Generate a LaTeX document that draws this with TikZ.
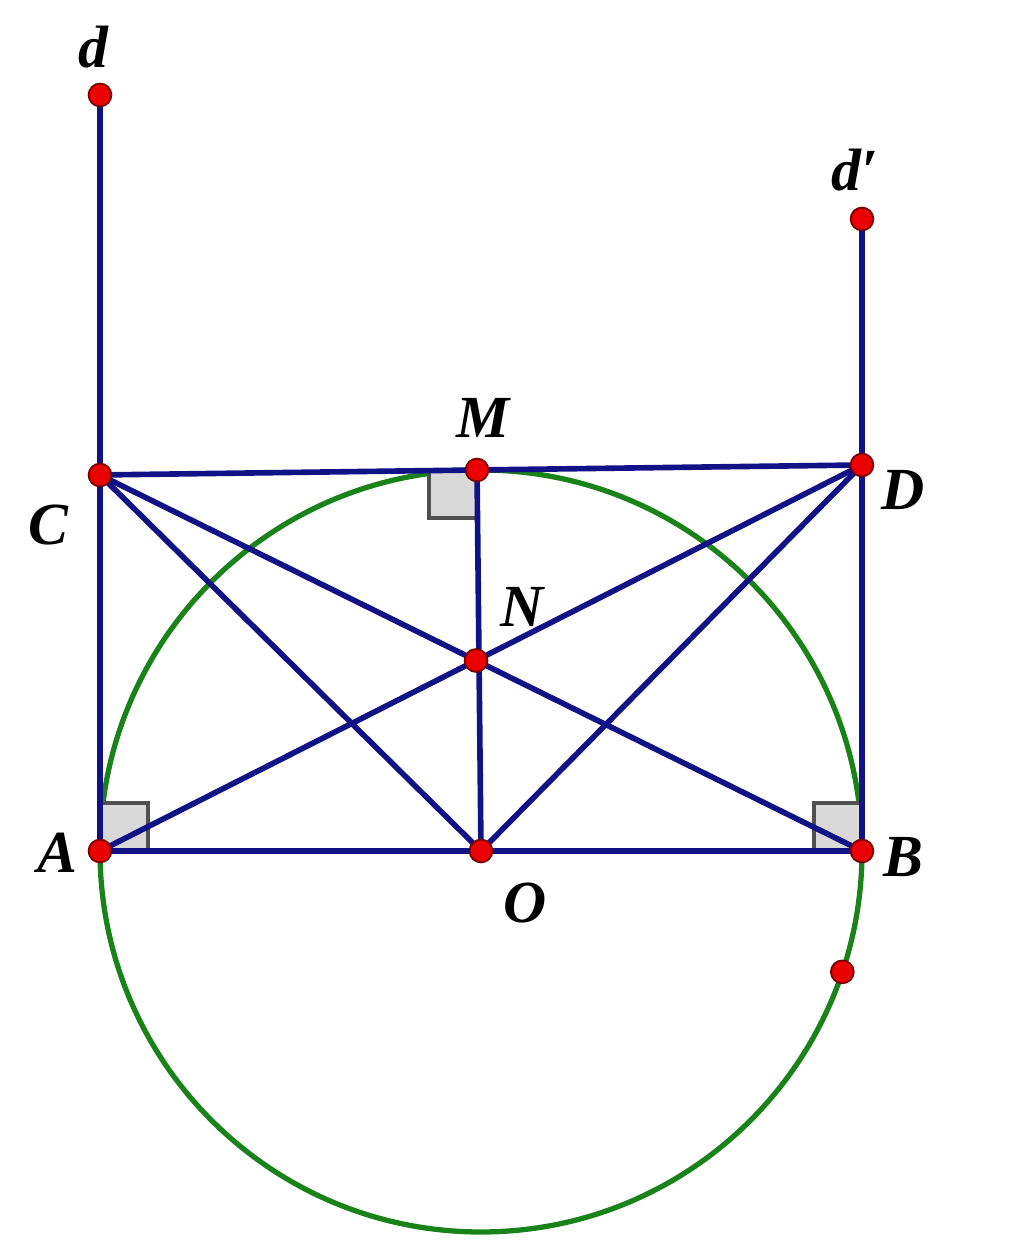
\documentclass[tikz,border=0pt]{standalone}
\usepackage{fontspec}
\setmainfont{Liberation Serif}
\usepackage{xcolor}
\usetikzlibrary{calc}
\definecolor{segblue}{RGB}{18,18,135}
\definecolor{circgreen}{RGB}{25,130,25}
\definecolor{ptred}{RGB}{235,0,0}
\definecolor{ptedge}{RGB}{120,0,0}
\definecolor{markgray}{RGB}{80,80,80}

\begin{document}
\begin{tikzpicture}[
    seg/.style={draw=segblue, line width=1.6pt},
    circ/.style={draw=circgreen, line width=1.5pt},
    pt/.style={circle, fill=ptred, draw=ptedge, line width=0.5pt, inner sep=0pt, minimum size=6.5pt},
    lbl/.style={font=\fontsize{17}{19}\selectfont\bfseries\itshape, inner sep=0pt},
    rfill/.style={fill=gray!30},
    rmark/.style={draw=markgray, line width=1.3pt}
]
    \useasboundingbox (0,0) rectangle (10.24,12.54);
    % base points
    \coordinate (A) at (1.00,4.03);
    \coordinate (B) at (8.62,4.03);
    \coordinate (O) at (4.81,4.03);
    \coordinate (C) at (1.00,7.79);
    \coordinate (D) at (8.62,7.89);
    \coordinate (M) at (4.77,7.84);
    \coordinate (d) at (1.00,11.59);
    \coordinate (dd) at (8.62,10.35);
    \coordinate (E) at ($(O)+(-18.5:3.81)$);
    % N where AD meets BC
    \coordinate (N) at (intersection of A--D and C--B);

    % semicircle / circle on AB
    \draw[circ] (O) circle (3.81);

    % right angle marks
    \fill[rfill] (M) rectangle ++(-0.48,-0.48);
    \fill[rfill] (A) rectangle ++(0.48,0.48);
    \fill[rfill] (B) rectangle ++(-0.48,0.48);
    \draw[rmark] (M) -- ++(-0.48,0) -- ++(0,-0.48) -- ++(0.48,0);
    \draw[rmark] ($(A)+(0,0.48)$) -- ++(0.48,0) -- ++(0,-0.48);
    \draw[rmark] ($(B)+(0,0.48)$) -- ++(-0.48,0) -- ++(0,-0.48);

    % tangents d and d'
    \draw[seg] (A) -- (d);
    \draw[seg] (B) -- (dd);
    % CD and AB
    \draw[seg] (C) -- (M) -- (D);
    \draw[seg] (A) -- (B);
    % diagonals
    \draw[seg] (C) -- (O);
    \draw[seg] (C) -- (B);
    \draw[seg] (D) -- (A);
    \draw[seg] (D) -- (O);
    \draw[seg] (M) -- (O);

    % points
    \foreach \p in {A,B,O,C,D,M,N,d,dd,E}
        \node[pt] at (\p) {};

    % labels
    \node[lbl] (lA) at (0.57,4.01) {A};
    \node[lbl] (lB) at (9.03,3.97) {B};
    \node[lbl] (lO) at (5.25,3.51) {O};
    \node[lbl] (lC) at (0.48,7.29) {C};
    \node[lbl] (lD) at (9.03,7.64) {D};
    \node[lbl] (lM) at (4.83,8.36) {M};
    \node[lbl] (lN) at (5.22,6.47) {N};
    \node[lbl] (ld) at (0.93,12.07) {d};
    \node[lbl] (ldd) at (8.55,10.84) {d′};
\end{tikzpicture}
\end{document}
